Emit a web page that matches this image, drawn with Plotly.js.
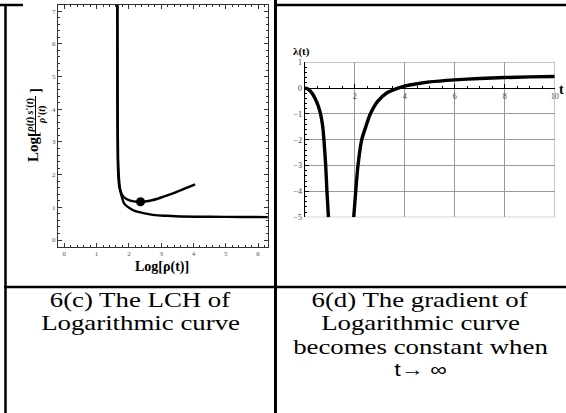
<!DOCTYPE html>
<html>
<head>
<meta charset="utf-8">
<script src="https://cdn.plot.ly/plotly-3.0.1.min.js"></script>
<style>html,body{margin:0;padding:0;background:#fff;}#chart{width:566px;height:413px;}</style>
</head>
<body>
<div id="chart"></div>
<script>
// ---- Data: panel 6(c) LCH of logarithmic curve ----
var lchLowerX = [1.64, 1.645, 1.655, 1.67, 1.70, 1.75, 1.85, 2.03, 2.2, 2.45, 2.8, 3.17, 3.6, 4.5, 5.5, 6.3];
var lchLowerY = [7.2, 4.0, 2.5, 2.0, 1.65, 1.43, 1.12, 0.97, 0.88, 0.82, 0.76, 0.74, 0.72, 0.71, 0.705, 0.70];
var lchUpperX = [1.645, 1.65, 1.665, 1.685, 1.72, 1.78, 1.88, 2.0, 2.15, 2.36, 2.65, 3.0, 3.5, 4.05];
var lchUpperY = [7.2, 4.0, 2.5, 2.0, 1.6, 1.4, 1.28, 1.22, 1.18, 1.165, 1.2, 1.3, 1.48, 1.70];
var pointX = [2.36];
var pointY = [1.17];

// ---- Data: panel 6(d) gradient lambda(t) ----
var lamLeftT = [0, 0.1, 0.21, 0.31, 0.41, 0.55, 0.64, 0.72, 0.77, 0.84, 0.89, 0.95];
var lamLeftY = [0, -0.02, -0.1, -0.22, -0.39, -0.71, -1.03, -1.48, -2.0, -3.0, -4.0, -5.0];
var lamRightT = [1.96, 2.04, 2.13, 2.28, 2.45, 2.61, 2.91, 3.28, 3.73, 4.0, 4.5, 5, 6, 7, 8, 9, 10];
var lamRightY = [-5.0, -4.0, -3.0, -2.0, -1.48, -1.03, -0.52, -0.19, 0, 0.08, 0.17, 0.24, 0.32, 0.375, 0.41, 0.435, 0.45];

// ---- Labels ----
var leftXTitle = "<b>Log[ρ(t)]</b>";
var captionLeft = ["6(c) The LCH of", "Logarithmic curve"];
var captionRight = ["6(d) The gradient of", "Logarithmic curve", "becomes constant when", "t→ ∞"];
var rightXTicks = [2, 4, 6, 8, 10];

var W = 566, H = 413;
function px(x){ return x / W; }
function py(y){ return 1 - y / H; }
var serif = "Liberation Serif, Times New Roman, serif";
var sans = "Liberation Sans, Arial, sans-serif";

var traces = [
  {x: lchLowerX, y: lchLowerY, xaxis: 'x', yaxis: 'y', mode: 'lines', line: {color: '#000', width: 2.4, shape: 'spline', smoothing: 0.6}, hoverinfo: 'skip'},
  {x: lchUpperX, y: lchUpperY, xaxis: 'x', yaxis: 'y', mode: 'lines', line: {color: '#000', width: 2.4, shape: 'spline', smoothing: 0.6}, hoverinfo: 'skip'},
  {x: pointX, y: pointY, xaxis: 'x', yaxis: 'y', mode: 'markers', marker: {color: '#000', size: 9}, hoverinfo: 'skip'},
  {x: lamLeftT, y: lamLeftY, xaxis: 'x2', yaxis: 'y2', mode: 'lines', line: {color: '#000', width: 3.4, shape: 'spline', smoothing: 0.6}, hoverinfo: 'skip'},
  {x: lamRightT, y: lamRightY, xaxis: 'x2', yaxis: 'y2', mode: 'lines', line: {color: '#000', width: 3.4, shape: 'spline', smoothing: 0.6}, hoverinfo: 'skip'}
];

var tickFont = {family: serif, size: 7, color: '#555'};

var annotations = [
  {text: leftXTitle, x: px(162), y: py(267), xref: 'paper', yref: 'paper', showarrow: false, xanchor: 'center', yanchor: 'middle', font: {family: serif, size: 14, color: '#000'}},
  {text: "<b>Log[</b>", x: px(33), y: py(147), xref: 'paper', yref: 'paper', showarrow: false, textangle: -90, xanchor: 'center', yanchor: 'middle', font: {family: serif, size: 15, color: '#000'}},
  {text: "<b><i>ρ</i>(<i>t</i>) <i>s</i>'(<i>t</i>)</b>", x: px(29.5), y: py(116), xref: 'paper', yref: 'paper', showarrow: false, textangle: -90, xanchor: 'center', yanchor: 'middle', font: {family: serif, size: 10, color: '#000'}},
  {text: "<b><i>ρ</i>'(<i>t</i>)</b>", x: px(42), y: py(115), xref: 'paper', yref: 'paper', showarrow: false, textangle: -90, xanchor: 'center', yanchor: 'middle', font: {family: serif, size: 10, color: '#000'}},
  {text: "<b>]</b>", x: px(35), y: py(91), xref: 'paper', yref: 'paper', showarrow: false, textangle: -90, xanchor: 'center', yanchor: 'middle', font: {family: serif, size: 15, color: '#000'}},
  {text: "<b>λ(t)</b>", x: px(301), y: py(52), xref: 'paper', yref: 'paper', showarrow: false, xanchor: 'center', yanchor: 'middle', font: {family: serif, size: 11, color: '#000'}},
  {text: "<b>t</b>", x: px(561), y: py(89), xref: 'paper', yref: 'paper', showarrow: false, xanchor: 'center', yanchor: 'middle', font: {family: serif, size: 14, color: '#000'}}
];
var captionStart = annotations.length;
var lineY = [299, 322.5, 346, 369];
captionLeft.forEach(function(t, i){
  annotations.push({text: t, x: px(140), y: py(lineY[i]), xref: 'paper', yref: 'paper', showarrow: false, xanchor: 'center', yanchor: 'middle', font: {family: serif, size: 22, color: '#000'}});
});
captionRight.forEach(function(t, i){
  var last = (i === captionRight.length - 1);
  annotations.push({text: t, x: px(420), y: py(lineY[i]), xref: 'paper', yref: 'paper', showarrow: false, xanchor: 'center', yanchor: 'middle', font: {family: last ? sans : serif, size: last ? 19 : 22, color: '#000'}});
});
var captionEnd = annotations.length;

var layout = {
  width: W, height: H,
  margin: {l: 0, r: 0, t: 0, b: 0},
  paper_bgcolor: '#fff', plot_bgcolor: 'rgba(0,0,0,0)',
  showlegend: false,
  xaxis: {
    domain: [px(58), px(268)], range: [-0.195, 6.306], anchor: 'y',
    showline: true, linecolor: '#333', linewidth: 1, mirror: 'allticks',
    ticks: 'inside', ticklen: 4, tickwidth: 1, tickcolor: '#333',
    tick0: 0, dtick: 1, showgrid: false, zeroline: false, tickfont: tickFont,
    minor: {dtick: 0.2, tick0: 0, ticks: 'inside', ticklen: 2, tickcolor: '#333', showgrid: false}
  },
  yaxis: {
    domain: [py(247), py(5)], range: [-0.214, 7.19], anchor: 'x',
    showline: true, linecolor: '#333', linewidth: 1, mirror: 'allticks',
    ticks: 'inside', ticklen: 4, tickwidth: 1, tickcolor: '#333',
    tick0: 0, dtick: 1, showgrid: false, zeroline: false, tickfont: tickFont,
    minor: {dtick: 0.2, tick0: 0, ticks: 'inside', ticklen: 2, tickcolor: '#333', showgrid: false}
  },
  xaxis2: {
    domain: [px(304.7), px(554.7)], range: [0, 10], anchor: 'free', position: py(88.3),
    showline: true, linecolor: '#000', linewidth: 1,
    ticks: 'inside', ticklen: 4, tickwidth: 1, tickcolor: '#000',
    tickvals: rightXTicks, showgrid: true, gridcolor: '#999', gridwidth: 1, zeroline: false,
    tickfont: {family: serif, size: 8, color: '#444'},
    minor: {dtick: 0.5, tick0: 0, ticks: 'inside', ticklen: 2, tickcolor: '#000', showgrid: false}
  },
  yaxis2: {
    domain: [py(217.3), py(62.3)], range: [-5, 1], anchor: 'x2',
    showline: true, linecolor: '#000', linewidth: 1,
    ticks: 'inside', ticklen: 4, tickwidth: 1, tickcolor: '#000',
    tick0: 0, dtick: 1, showgrid: true, gridcolor: '#999', gridwidth: 1, zeroline: false,
    tickfont: {family: serif, size: 8, color: '#444'},
    minor: {dtick: 0.2, tick0: 0, ticks: 'inside', ticklen: 2, tickcolor: '#000', showgrid: false}
  },
  shapes: [
    {type: 'rect', xref: 'x2', yref: 'y2', x0: 0, x1: 10, y0: -5, y1: 1, line: {color: '#999', width: 1}, layer: 'below'},
    {type: 'line', xref: 'paper', yref: 'paper', x0: px(5.5), x1: px(5.5), y0: py(4), y1: 0, line: {color: '#000', width: 2.5}},
    {type: 'line', xref: 'paper', yref: 'paper', x0: px(275.5), x1: px(275.5), y0: 1, y1: 0, line: {color: '#000', width: 3}},
    {type: 'line', xref: 'paper', yref: 'paper', x0: px(275), x1: 1, y0: py(5), y1: py(5), line: {color: '#000', width: 2.5}},
    {type: 'line', xref: 'paper', yref: 'paper', x0: 0, x1: px(23), y0: py(5), y1: py(5), line: {color: '#000', width: 2.5}},
    {type: 'line', xref: 'paper', yref: 'paper', x0: px(4), x1: 1, y0: py(287), y1: py(287), line: {color: '#000', width: 2.5}},
    {type: 'line', xref: 'paper', yref: 'paper', x0: px(35.5), x1: px(35.5), y0: py(96), y1: py(136), line: {color: '#000', width: 1}}
  ],
  annotations: annotations
};

Plotly.newPlot('chart', traces, layout, {staticPlot: true, displayModeBar: false}).then(function(gd){
  // the reference caption text is horizontally stretched; widen it the same way
  var scaleX = 1.22;
  var groups = gd.querySelectorAll('g.annotation');
  groups.forEach(function(g){
    var idx = +g.getAttribute('data-index');
    if (idx >= captionStart && idx < captionEnd) {
      var t = g.querySelector('text.annotation-text');
      if (!t) return;
      var bb = t.getBBox();
      var cx = bb.x + bb.width / 2;
      t.setAttribute('transform', 'translate(' + cx + ',0) scale(' + scaleX + ',1) translate(' + (-cx) + ',0)');
    }
  });
});
</script>
</body>
</html>
